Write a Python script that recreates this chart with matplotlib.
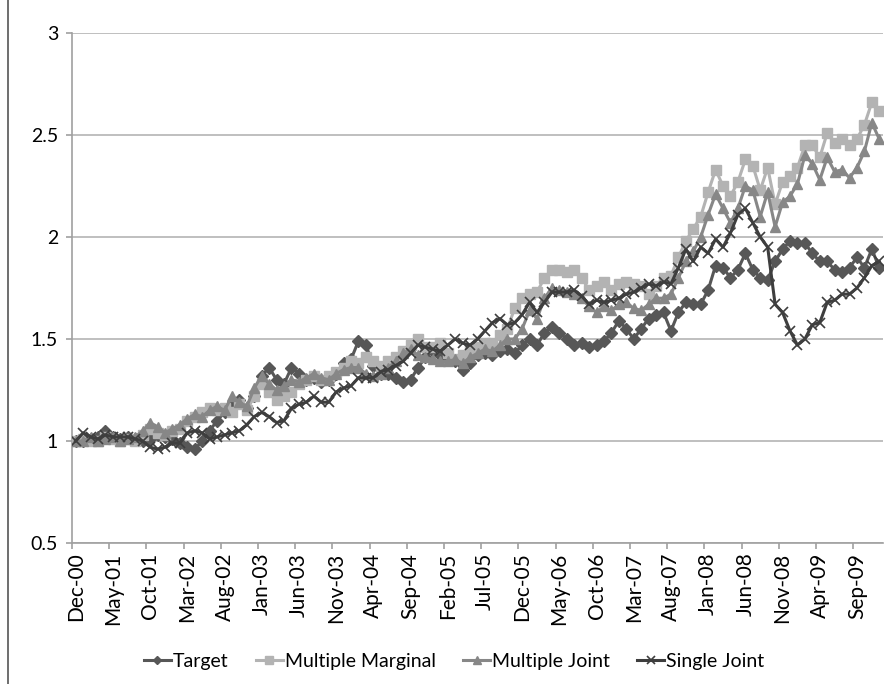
import matplotlib
matplotlib.use("Agg")
import matplotlib.pyplot as plt
import pandas as pd
from matplotlib.lines import Line2D

plt.rcParams['font.family'] = ['Lato', 'DejaVu Sans']

# monthly, Dec-00 .. Dec-09
months = pd.date_range('2000-12-01', periods=109, freq='MS').strftime('%b-%y').tolist()

target = [
    1.00, 1.00, 1.01, 1.02, 1.05, 1.02, 1.01, 1.02, 1.01, 1.00,
    1.01, 1.03, 1.02, 1.01, 0.99, 0.97, 0.96, 1.00, 1.05, 1.10,
    1.14, 1.17, 1.20, 1.16, 1.22, 1.32, 1.36, 1.30, 1.28, 1.36,
    1.33, 1.30, 1.31, 1.29, 1.30, 1.33, 1.38, 1.40, 1.49, 1.47,
    1.37, 1.33, 1.33, 1.31, 1.29, 1.30, 1.36, 1.41, 1.44, 1.42,
    1.40, 1.39, 1.35, 1.38, 1.42, 1.43, 1.42, 1.44, 1.45, 1.43,
    1.47, 1.50, 1.47, 1.53, 1.56, 1.53, 1.50, 1.47, 1.48, 1.46,
    1.47, 1.49, 1.53, 1.59, 1.55, 1.50, 1.55, 1.60, 1.62, 1.63,
    1.54, 1.63, 1.68, 1.67, 1.67, 1.74, 1.86, 1.85, 1.80, 1.84,
    1.92, 1.84, 1.80, 1.79, 1.88, 1.94, 1.98, 1.97, 1.97, 1.92,
    1.88, 1.88, 1.84, 1.83, 1.85, 1.90, 1.85, 1.94, 1.85,
]

multiple_marginal = [
    1.00, 1.01, 1.00, 1.00, 1.02, 1.01, 1.00, 1.01, 1.00, 1.03,
    1.06, 1.04, 1.03, 1.05, 1.06, 1.10, 1.12, 1.14, 1.16, 1.15,
    1.16, 1.14, 1.18, 1.15, 1.22, 1.28, 1.24, 1.20, 1.22, 1.24,
    1.28, 1.30, 1.32, 1.30, 1.32, 1.34, 1.36, 1.39, 1.38, 1.41,
    1.39, 1.37, 1.39, 1.41, 1.44, 1.47, 1.50, 1.46, 1.46, 1.48,
    1.43, 1.40, 1.42, 1.45, 1.46, 1.48, 1.48, 1.52, 1.55, 1.65,
    1.70, 1.72, 1.73, 1.80, 1.84, 1.84, 1.83, 1.84, 1.80, 1.74,
    1.76, 1.78, 1.74, 1.77, 1.78, 1.77, 1.76, 1.72, 1.76, 1.80,
    1.81, 1.90, 1.98, 2.04, 2.10, 2.22, 2.33, 2.25, 2.20, 2.27,
    2.38, 2.35, 2.23, 2.34, 2.16, 2.27, 2.30, 2.34, 2.45, 2.45,
    2.39, 2.51, 2.46, 2.48, 2.45, 2.48, 2.55, 2.66, 2.62,
]

multiple_joint = [
    1.00, 1.00, 1.02, 1.00, 1.01, 1.02, 1.00, 1.01, 1.02, 1.05,
    1.09, 1.07, 1.04, 1.06, 1.08, 1.11, 1.13, 1.12, 1.15, 1.17,
    1.15, 1.22, 1.19, 1.17, 1.26, 1.32, 1.28, 1.25, 1.27, 1.30,
    1.29, 1.31, 1.33, 1.31, 1.30, 1.33, 1.35, 1.36, 1.36, 1.33,
    1.32, 1.33, 1.36, 1.39, 1.43, 1.45, 1.42, 1.41, 1.40, 1.39,
    1.39, 1.40, 1.38, 1.41, 1.43, 1.45, 1.44, 1.47, 1.50, 1.50,
    1.55, 1.64, 1.60, 1.70, 1.75, 1.74, 1.73, 1.72, 1.70, 1.66,
    1.63, 1.66, 1.64, 1.67, 1.68, 1.65, 1.64, 1.67, 1.70, 1.70,
    1.72, 1.80, 1.88, 1.93, 2.00, 2.11, 2.21, 2.14, 2.07, 2.14,
    2.25, 2.23, 2.10, 2.22, 2.05, 2.17, 2.20, 2.26, 2.40, 2.36,
    2.28, 2.39, 2.32, 2.33, 2.29, 2.34, 2.42, 2.56, 2.48,
]

single_joint = [
    1.00, 1.04, 1.02, 1.01, 1.03, 1.02, 1.02, 1.02, 1.01, 1.00,
    0.97, 0.96, 0.97, 0.99, 0.99, 1.04, 1.05, 1.04, 1.01, 1.02,
    1.03, 1.04, 1.05, 1.08, 1.12, 1.14, 1.12, 1.09, 1.10, 1.16,
    1.18, 1.19, 1.22, 1.19, 1.19, 1.24, 1.26, 1.27, 1.31, 1.31,
    1.31, 1.34, 1.35, 1.37, 1.39, 1.43, 1.47, 1.46, 1.45, 1.44,
    1.47, 1.50, 1.48, 1.47, 1.50, 1.54, 1.58, 1.60, 1.57, 1.58,
    1.62, 1.68, 1.63, 1.68, 1.73, 1.73, 1.73, 1.74, 1.71, 1.67,
    1.69, 1.68, 1.69, 1.70, 1.72, 1.73, 1.75, 1.77, 1.76, 1.78,
    1.77, 1.85, 1.94, 1.88, 1.95, 1.92, 1.99, 1.95, 2.02, 2.11,
    2.14, 2.07, 2.00, 1.95, 1.67, 1.63, 1.54, 1.47, 1.50, 1.57,
    1.58, 1.68, 1.69, 1.72, 1.72, 1.75, 1.80, 1.86, 1.88,
]

x = list(range(len(months)))

fig = plt.figure(figsize=(8.84, 6.84), dpi=100)
ax = fig.add_axes([72 / 884, 1 - 543 / 684, 811 / 884, 510 / 684])

ax.plot(x, target, color='#575757', lw=2.2, marker='D', ms=6, label='Target', zorder=3)
ax.plot(x, multiple_marginal, color='#b3b3b3', lw=2.2, marker='s', ms=7, label='Multiple Marginal', zorder=3)
ax.plot(x, multiple_joint, color='#878787', lw=2.2, marker='^', ms=7.5, label='Multiple Joint', zorder=3)
ax.plot(x, single_joint, color='#3e3e3e', lw=2.2, marker='x', ms=7, mew=1.2, label='Single Joint', zorder=3)

ax.set_ylim(0.5, 3)
ax.set_xlim(-0.5, len(months) - 0.5)
ax.set_yticks([0.5, 1, 1.5, 2, 2.5, 3])
ax.set_yticklabels(['0.5', '1', '1.5', '2', '2.5', '3'])
ax.yaxis.grid(True, color='#b4b4b4', lw=1.2)
ax.set_axisbelow(True)

lab_pos = list(range(0, len(months), 5))
ax.set_xticks(lab_pos)
ax.set_xticklabels([months[i] for i in lab_pos], rotation=90)
ax.set_xticks([i - 0.5 for i in lab_pos], minor=True)
ax.tick_params(axis='x', which='major', length=0, pad=7, labelsize=15)
ax.tick_params(axis='x', which='minor', length=4, color='#a0a0a0', width=1.2)
ax.tick_params(axis='y', length=4, color='#a0a0a0', width=1.2, labelsize=14, pad=6)

for s in ['top', 'right']:
    ax.spines[s].set_visible(False)
for s in ['left', 'bottom']:
    ax.spines[s].set_color('#a0a0a0')
    ax.spines[s].set_linewidth(1.2)

fig.legend(loc='center left', bbox_to_anchor=(126 / 884, 1 - 661 / 684), ncol=4, frameon=False,
           fontsize=14, handlelength=1.4, handletextpad=0.1, columnspacing=1.4,
           markerscale=0.75)

fig.add_artist(Line2D([8 / 884, 8 / 884], [0, 1], color='#555555', lw=1.2))

fig.savefig('out.png', dpi=100)
